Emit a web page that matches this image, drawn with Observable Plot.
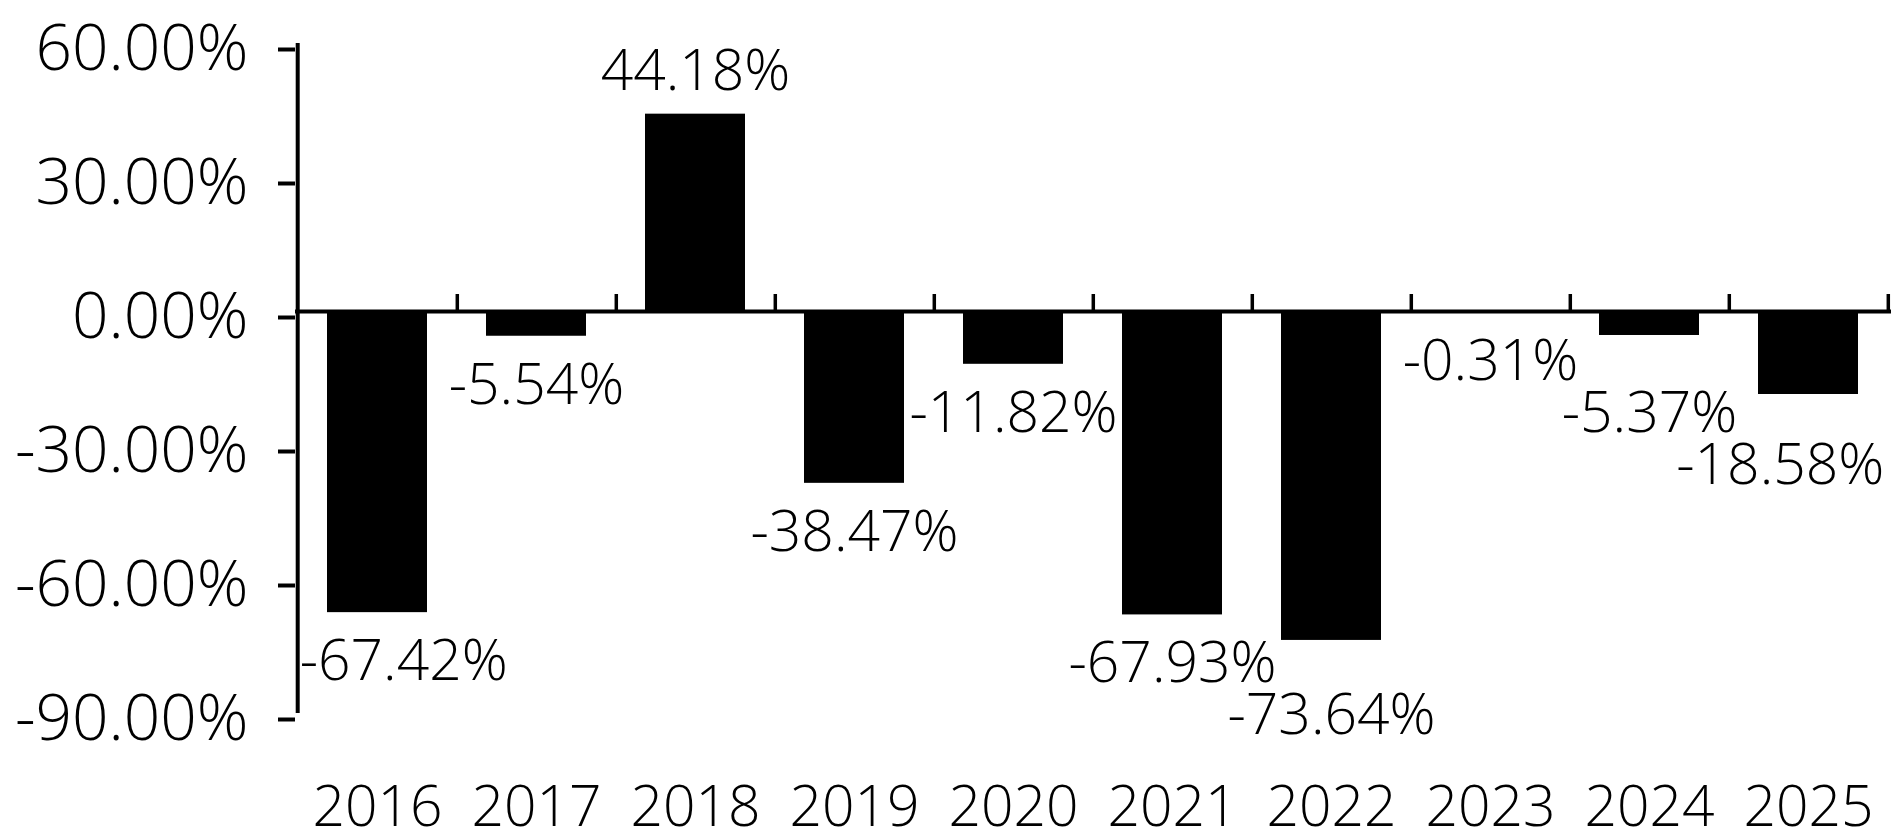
<!DOCTYPE html>
<html><head><meta charset="utf-8">
<script src="https://cdn.jsdelivr.net/npm/d3@7"></script>
<script src="https://cdn.jsdelivr.net/npm/@observablehq/plot@0.6"></script>
<style>html,body{margin:0;padding:0;background:#fff;} #chart svg{display:block}</style>
</head><body><div id="chart"></div>
<script>
// ---- data ----
const years = ["2016","2017","2018","2019","2020","2021","2022","2023","2024","2025"];
const returns = [-67.42, -5.54, 44.18, -38.47, -11.82, -67.93, -73.64, -0.31, -5.37, -18.58];
const yTicks = [60, 30, 0, -30, -60, -90];
const yDomain = [-90, 60];

// ---- layout ----
const W = 1900, H = 833;
const mL = 295, mR = 9, mT = 43, mB = 120;
const FONT = "'Open Sans', 'Noto Sans', sans-serif";
const WEIGHT = 300;
const labelSize = 57, tickSize = 64;
const fmt = v => v.toFixed(2) + "%";

const data = years.map((y, i) => ({year: y, value: returns[i], label: fmt(returns[i])}));

const xOpts = {domain: years, paddingInner: 0.37, paddingOuter: 0.185};
const yOpts = {domain: yDomain};
const xs = Plot.scale({x: {type: "band", ...xOpts, range: [mL, W - mR]}});
const ys = Plot.scale({y: {type: "linear", ...yOpts, range: [H - mB, mT]}});
const step = xs.apply(years[1]) - xs.apply(years[0]);
const bw = xs.bandwidth;
const pxPerUnit = Math.abs(ys.apply(0) - ys.apply(1));

// ---- label placement (outside end, with overlap avoidance) ----
const ctx = document.createElement("canvas").getContext("2d");
ctx.font = `${WEIGHT} ${labelSize}px ${FONT}`;
const capH = 0.714 * labelSize, gap = 27, spacing = 11;
const xMin = mL + 2, xMax = W - mR - 4;
let prev = null;
const placed = data.map(d => {
  const w = ctx.measureText(d.label).width;
  const cx = xs.apply(d.year) + bw / 2;
  let left = Math.max(xMin, Math.min(cx - w / 2, xMax - w));
  const yv = ys.apply(d.value);
  let top;
  if (d.value >= 0) {
    top = yv - 24 - capH;
  } else {
    top = yv + gap;
    if (prev && prev.neg && left < prev.left + prev.w && left + w > prev.left &&
        top < prev.top + capH && top + capH > prev.top) {
      top = prev.top + capH + spacing;
    }
  }
  const p = {d, w, left, top, neg: d.value < 0, dx: left + w / 2 - cx, dy: top - yv};
  prev = p;
  return p;
});

const chart = Plot.plot({
  width: W, height: H,
  marginLeft: mL, marginRight: mR, marginTop: mT, marginBottom: mB,
  style: {fontFamily: FONT, fontSize: labelSize + "px", fontWeight: WEIGHT, color: "#000", background: "#fff", overflow: "visible"},
  x: {...xOpts, label: null},
  y: {...yOpts, label: null},
  marks: [
    Plot.barY(data, {x: "year", y: "value", fill: "#000"}),
    Plot.ruleY([0], {stroke: "#000", strokeWidth: 4}),
    Plot.ruleX([years[0]], {x: d => d, y1: yDomain[0], y2: yDomain[1], dx: -step / 2, stroke: "#000", strokeWidth: 4}),
    Plot.ruleX(years, {x: d => d, y1: 0, y2: 17 / pxPerUnit, dx: step / 2, stroke: "#000", strokeWidth: 3.5}),
    Plot.axisY({ticks: yTicks, tickSize: 17, tickPadding: 30, tickFormat: fmt, fontSize: tickSize, stroke: "#000", strokeWidth: 4, dy: 6, label: null}),
    Plot.axisX({tickSize: 0, tickPadding: 72, fontSize: labelSize, label: null}),
    ...placed.map(p => Plot.text([p.d], {x: "year", y: "value", text: "label", lineAnchor: "top",
      dx: p.dx, dy: p.dy, fontSize: labelSize, fill: "#000"}))
  ]
});
document.getElementById("chart").appendChild(chart);
</script>
</body></html>
